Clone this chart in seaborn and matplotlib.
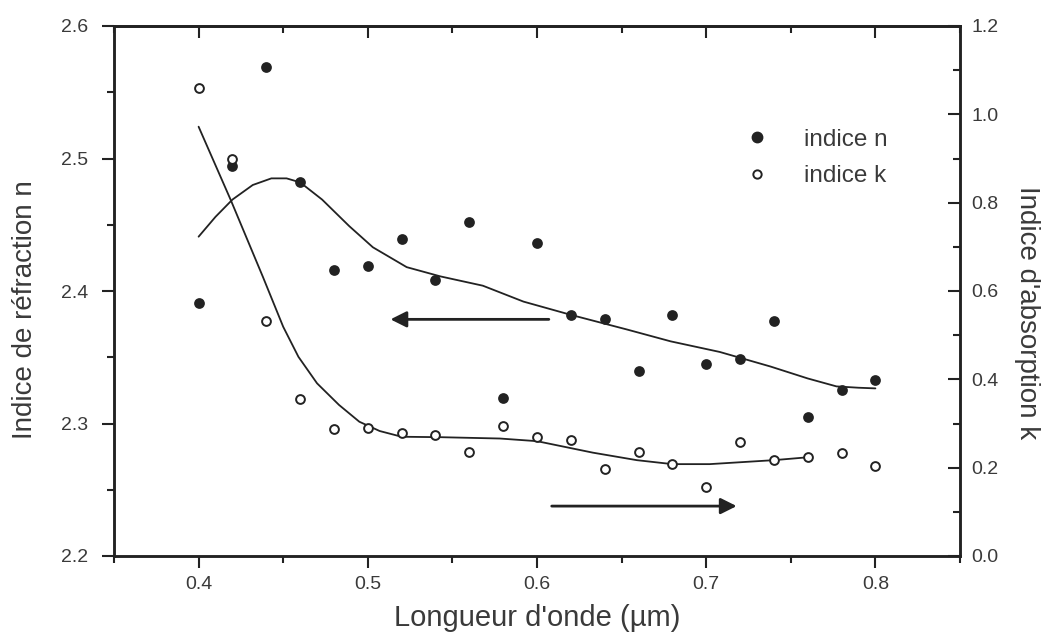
import numpy as np
import pandas as pd
import matplotlib
matplotlib.use("Agg")
import matplotlib.pyplot as plt
import seaborn as sns
from matplotlib.ticker import MultipleLocator
from matplotlib.lines import Line2D

# measured points (wavelength in um)
wavelength = [0.40, 0.42, 0.44, 0.46, 0.48, 0.50, 0.52, 0.54, 0.56, 0.58, 0.60,
              0.62, 0.64, 0.66, 0.68, 0.70, 0.72, 0.74, 0.76, 0.78, 0.80]
n_points = [2.391, 2.494, 2.569, 2.482, 2.416, 2.419, 2.439, 2.408, 2.452, 2.319, 2.436,
            2.382, 2.379, 2.340, 2.382, 2.345, 2.349, 2.377, 2.305, 2.325, 2.333]
k_points = [1.060, 0.899, 0.532, 0.355, 0.287, 0.289, 0.278, 0.275, 0.235, 0.294, 0.269,
            0.263, 0.196, 0.235, 0.208, 0.157, 0.259, 0.217, 0.2235, 0.234, 0.204]

# fitted curves
n_fit_x = [0.400, 0.410, 0.420, 0.432, 0.443, 0.452, 0.460, 0.473, 0.489, 0.503, 0.523,
           0.543, 0.568, 0.592, 0.620, 0.653, 0.679, 0.708, 0.738, 0.760, 0.777, 0.790, 0.800]
n_fit_y = [2.441, 2.456, 2.469, 2.480, 2.485, 2.485, 2.482, 2.469, 2.449, 2.433, 2.418,
           2.411, 2.404, 2.392, 2.382, 2.371, 2.362, 2.354, 2.343, 2.334, 2.328, 2.327, 2.3265]
k_fit_x = [0.400, 0.419, 0.438, 0.450, 0.459, 0.470, 0.483, 0.495, 0.507, 0.520, 0.543,
           0.578, 0.600, 0.633, 0.659, 0.680, 0.702, 0.740, 0.760]
k_fit_y = [0.972, 0.806, 0.632, 0.519, 0.451, 0.391, 0.342, 0.304, 0.283, 0.270, 0.269,
           0.266, 0.260, 0.234, 0.217, 0.208, 0.208, 0.217, 0.2235]

ink = "#222222"
txt = "#3a3a3a"

sns.set_style("ticks")
plt.rcParams['font.family'] = ['Liberation Sans', 'DejaVu Sans']
plt.rcParams['axes.linewidth'] = 1.8

fig = plt.figure(figsize=(10.51, 6.38), dpi=100)
ax = fig.add_axes([114/1051, 1-556/638, (960-114)/1051, (556-26)/638])
ax2 = ax.twinx()

sns.lineplot(x=n_fit_x, y=n_fit_y, ax=ax, color=ink, lw=1.3, sort=False, estimator=None)
sns.scatterplot(x=wavelength, y=n_points, ax=ax, color=ink, s=60, linewidth=0, zorder=3)
sns.lineplot(x=k_fit_x, y=k_fit_y, ax=ax2, color=ink, lw=1.3, sort=False, estimator=None)
sns.scatterplot(x=wavelength, y=k_points, ax=ax2, facecolor="white", edgecolor=ink,
                s=40, linewidth=1.4, zorder=3)

ax.annotate("", xy=(0.5134, 2.3786), xytext=(0.607, 2.3786),
            arrowprops=dict(arrowstyle="-|>", color=ink, lw=2, mutation_scale=24,
                            shrinkA=0, shrinkB=0))
ax2.annotate("", xy=(0.718, 0.113), xytext=(0.6087, 0.113),
             arrowprops=dict(arrowstyle="-|>", color=ink, lw=2, mutation_scale=24,
                             shrinkA=0, shrinkB=0))

ax.set_xlim(0.35, 0.85)
ax.set_ylim(2.2, 2.6)
ax2.set_ylim(0.0, 1.2)

ax.xaxis.set_major_locator(MultipleLocator(0.1))
ax.xaxis.set_minor_locator(MultipleLocator(0.05))
ax.yaxis.set_major_locator(MultipleLocator(0.1))
ax.yaxis.set_minor_locator(MultipleLocator(0.05))
ax2.yaxis.set_major_locator(MultipleLocator(0.2))
ax2.yaxis.set_minor_locator(MultipleLocator(0.1))
ax.xaxis.set_major_formatter(plt.FuncFormatter(lambda v, p: f"{v:.1f}"))
ax.yaxis.set_major_formatter(plt.FuncFormatter(lambda v, p: f"{v:.1f}"))
ax2.yaxis.set_major_formatter(plt.FuncFormatter(lambda v, p: f"{v:.1f}"))

ax.tick_params(axis="x", which="major", direction="out", length=8.5, width=1.5,
               labelsize=14, labelcolor=txt, color=ink, pad=6)
ax.tick_params(axis="y", which="major", direction="out", length=8.5, width=1.5,
               labelsize=14, labelcolor=txt, color=ink, pad=10)
ax.tick_params(axis="both", which="minor", direction="out", length=5, width=1.5, color=ink)
ax2.tick_params(axis="y", which="major", direction="in", length=8.5, width=1.5,
                labelsize=14, labelcolor=txt, color=ink, pad=8)
ax2.tick_params(axis="y", which="minor", direction="in", length=5, width=1.5, color=ink)

top = ax.secondary_xaxis("top")
top.xaxis.set_major_locator(MultipleLocator(0.1))
top.xaxis.set_minor_locator(MultipleLocator(0.05))
top.tick_params(which="major", direction="in", length=8.5, width=1.5, labeltop=False, color=ink)
top.tick_params(which="minor", direction="in", length=5, width=1.5, color=ink)
top.spines["top"].set_linewidth(1.8)

for a in (ax, ax2):
    for s in a.spines.values():
        s.set_color(ink)

ax.set_xlabel("Longueur d'onde (µm)", fontsize=21, color=txt, labelpad=8)
ax.set_ylabel("Indice de réfraction n", fontsize=20, color=txt)
ax2.set_ylabel("Indice d'absorption k", fontsize=20, color=txt, rotation=-90)
ax.yaxis.set_label_coords(-0.09, 0.465)
ax2.yaxis.set_label_coords(1.095, 0.46)

handles = [Line2D([], [], ls="none", marker="o", color=ink, markersize=7.5),
           Line2D([], [], ls="none", marker="o", markerfacecolor="white",
                  markeredgecolor=ink, markeredgewidth=1.4, markersize=6)]
leg = ax2.legend(handles, ["indice n", "indice k"], loc="center left",
                 bbox_to_anchor=(746/1051, 1-158/638), bbox_transform=fig.transFigure,
                 frameon=False, fontsize=17.5, handlelength=0.9, handletextpad=1.5,
                 labelspacing=0.6, borderpad=0, borderaxespad=0)
for t in leg.get_texts():
    t.set_color(txt)

fig.savefig("out.png", dpi=100)
